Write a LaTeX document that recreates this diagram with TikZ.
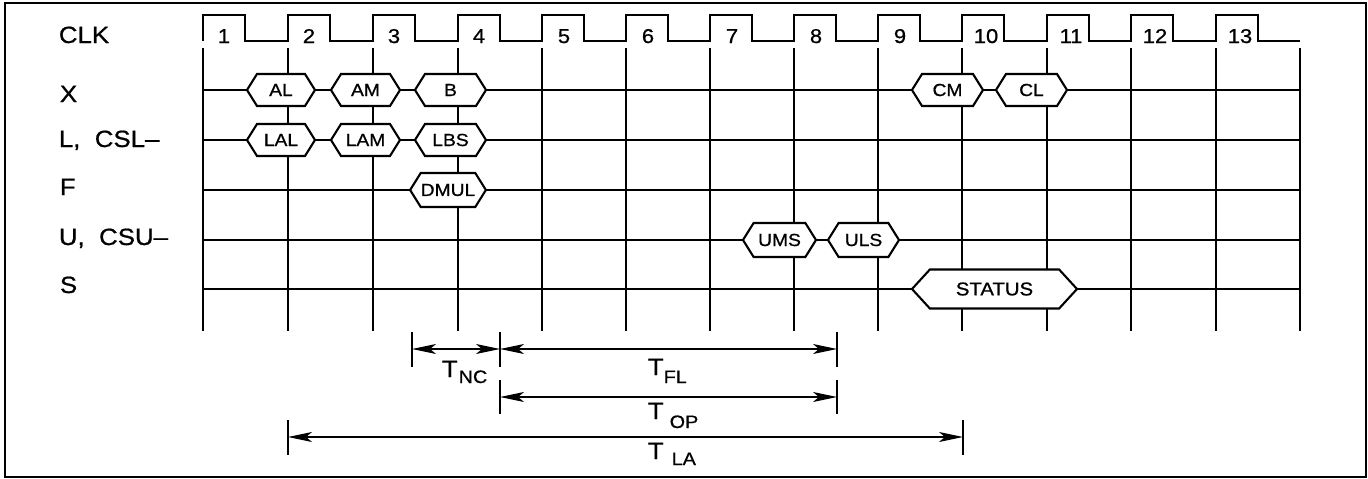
\documentclass[tikz,border=0pt]{standalone}
\usepackage{fontspec}
\setmainfont{Liberation Sans}[FakeStretch=1.1, FakeBold=0.8]
\usetikzlibrary{shapes.symbols,arrows.meta}

\newcommand\rowfont{\fontsize{23.5}{23.5}\selectfont}
\newcommand\numfont{\fontsize{20}{20}\selectfont}
\newcommand\hexfont{\fontsize{17.5}{17.5}\selectfont}
\newcommand\statfont{\fontsize{18.5}{18.5}\selectfont}
\newcommand\tsubfont{\fontsize{18}{18}\selectfont}

\tikzset{
  hexa/.style={shape=signal, signal to=east and west, signal pointer angle=116,
    draw, fill=white, line width=2.1pt, inner sep=0pt, minimum height=32pt, font=\hexfont},
  lbl/.style={anchor=base west, inner sep=0pt, font=\rowfont},
  num/.style={anchor=base, inner sep=0pt, font=\numfont},
  dimarrow/.style={{Stealth[length=24pt,width=10pt,inset=6pt]}-{Stealth[length=24pt,width=10pt,inset=6pt]},
    line width=1.4pt},
}

\begin{document}
\begin{tikzpicture}[x=1pt, y=-1pt, line width=1.8pt]
            \useasboundingbox (0,0) rectangle (1368,479);
            \draw[line width=1.8pt] (5,3) rectangle (1366,477);

            % Signal names
            \node[lbl] (lclk) at (58,43) {CLK};
            \node[lbl] (lx) at (59,102) {X};
            \node[lbl] (ll) at (58,147) {L,\ \ CSL--};
            \node[lbl] (lf) at (59,195) {F};
            \node[lbl] (lu) at (58,245) {U,\ \ CSU--};
            \node[lbl] (ls) at (59,293) {S};

            % Clock
            \draw (203,41) -- (203,15) -- (245,15) -- (245,41) -- (288,41) -- (288,15) -- (330,15) -- (330,41)
              -- (373,41) -- (373,15) -- (415,15) -- (415,41) -- (458,41) -- (458,15) -- (500,15) -- (500,41)
              -- (542,41) -- (542,15) -- (584,15) -- (584,41) -- (626,41) -- (626,15) -- (668,15) -- (668,41)
              -- (710,41) -- (710,15) -- (752,15) -- (752,41) -- (794,41) -- (794,15) -- (836,15) -- (836,41)
              -- (878,41) -- (878,15) -- (920,15) -- (920,41) -- (962,41) -- (962,15) -- (1004,15) -- (1004,41)
              -- (1047,41) -- (1047,15) -- (1089,15) -- (1089,41) -- (1131,41) -- (1131,15) -- (1173,15) -- (1173,41)
              -- (1216,41) -- (1216,15) -- (1258,15) -- (1258,41) -- (1300,41);

            % Cycle numbers
            \node[num] (c1) at (224,43) {1};
            \node[num] (c2) at (309,43) {2};
            \node[num] (c3) at (394,43) {3};
            \node[num] (c4) at (479,43) {4};
            \node[num] (c5) at (564,43) {5};
            \node[num] (c6) at (648,43) {6};
            \node[num] (c7) at (732,43) {7};
            \node[num] (c8) at (816,43) {8};
            \node[num] (c9) at (900,43) {9};
            \node[num] (c10) at (986,43) {10};
            \node[num] (c11) at (1071,43) {11};
            \node[num] (c12) at (1155,43) {12};
            \node[num] (c13) at (1240,43) {13};

            % Cycle lines
            \draw (203,48) -- (203,331);
            \draw (288,48) -- (288,331);
            \draw (373,48) -- (373,331);
            \draw (458,48) -- (458,331);
            \draw (542,48) -- (542,331);
            \draw (626,48) -- (626,331);
            \draw (710,48) -- (710,331);
            \draw (794,48) -- (794,331);
            \draw (878,48) -- (878,331);
            \draw (962,48) -- (962,331);
            \draw (1047,48) -- (1047,331);
            \draw (1131,48) -- (1131,331);
            \draw (1216,48) -- (1216,331);
            \draw (1300,48) -- (1300,331);

            % Signal lines
            \draw (203,90) -- (1300,90);
            \draw (203,140) -- (1300,140);
            \draw (203,190) -- (1300,190);
            \draw (203,240) -- (1300,240);
            \draw (203,289) -- (1300,289);

            % Bus values
            \node[hexa, minimum width=68pt] (al) at (281,90) {AL};
            \node[hexa, minimum width=69pt] (am) at (365.5,90) {AM};
            \node[hexa, minimum width=71pt] (b) at (450.5,90) {B};
            \node[hexa, minimum width=71pt] (cm) at (947.5,90) {CM};
            \node[hexa, minimum width=71pt] (cl) at (1031.5,90) {CL};
            \node[hexa, minimum width=68pt] (lal) at (281,140) {LAL};
            \node[hexa, minimum width=69pt] (lam) at (365.5,140) {LAM};
            \node[hexa, minimum width=71pt] (lbs) at (450.5,140) {LBS};
            \node[hexa, minimum width=72pt, minimum height=34pt] (dmul) at (448,190) {DMUL};
            \node[hexa, minimum width=73pt, minimum height=34pt] (ums) at (779.5,240) {UMS};
            \node[hexa, minimum width=71pt, minimum height=34pt] (uls) at (863.5,240) {ULS};
            \node[hexa, minimum width=165pt, minimum height=39pt, signal pointer angle=95, font=\statfont] (status) at (994.5,289) {STATUS};

            % Interval ends
            \coordinate (nc1) at (412,349);
            \coordinate (nc2) at (500,349);
            \coordinate (fl2) at (837,349);
            \coordinate (op1) at (500,397);
            \coordinate (op2) at (837,397);
            \coordinate (la1) at (288,437);
            \coordinate (la2) at (963,437);

            \draw (412,332) -- (412,367);
            \draw (500,332) -- (500,367);
            \draw (837,332) -- (837,367);
            \draw (500,380) -- (500,414);
            \draw (837,380) -- (837,414);
            \draw (288,420) -- (288,455);
            \draw (963,420) -- (963,455);

            % Intervals
            \draw[dimarrow] (nc1) -- (nc2);
            \draw[dimarrow] (nc2) -- (fl2);
            \draw[dimarrow] (op1) -- (op2);
            \draw[dimarrow] (la1) -- (la2);

            \node[lbl] (tnc) at (441,377) {T\hspace{1pt}\raisebox{-6pt}{\tsubfont NC}};
            \node[lbl] (tfl) at (647,375) {T\raisebox{-8pt}{\tsubfont FL}};
            \node[lbl] (top) at (647,419) {T\hspace{6pt}\raisebox{-9pt}{\tsubfont OP}};
            \node[lbl] (tla) at (647,459) {T\hspace{8pt}\raisebox{-6pt}{\tsubfont LA}};
        \end{tikzpicture}
\end{document}
